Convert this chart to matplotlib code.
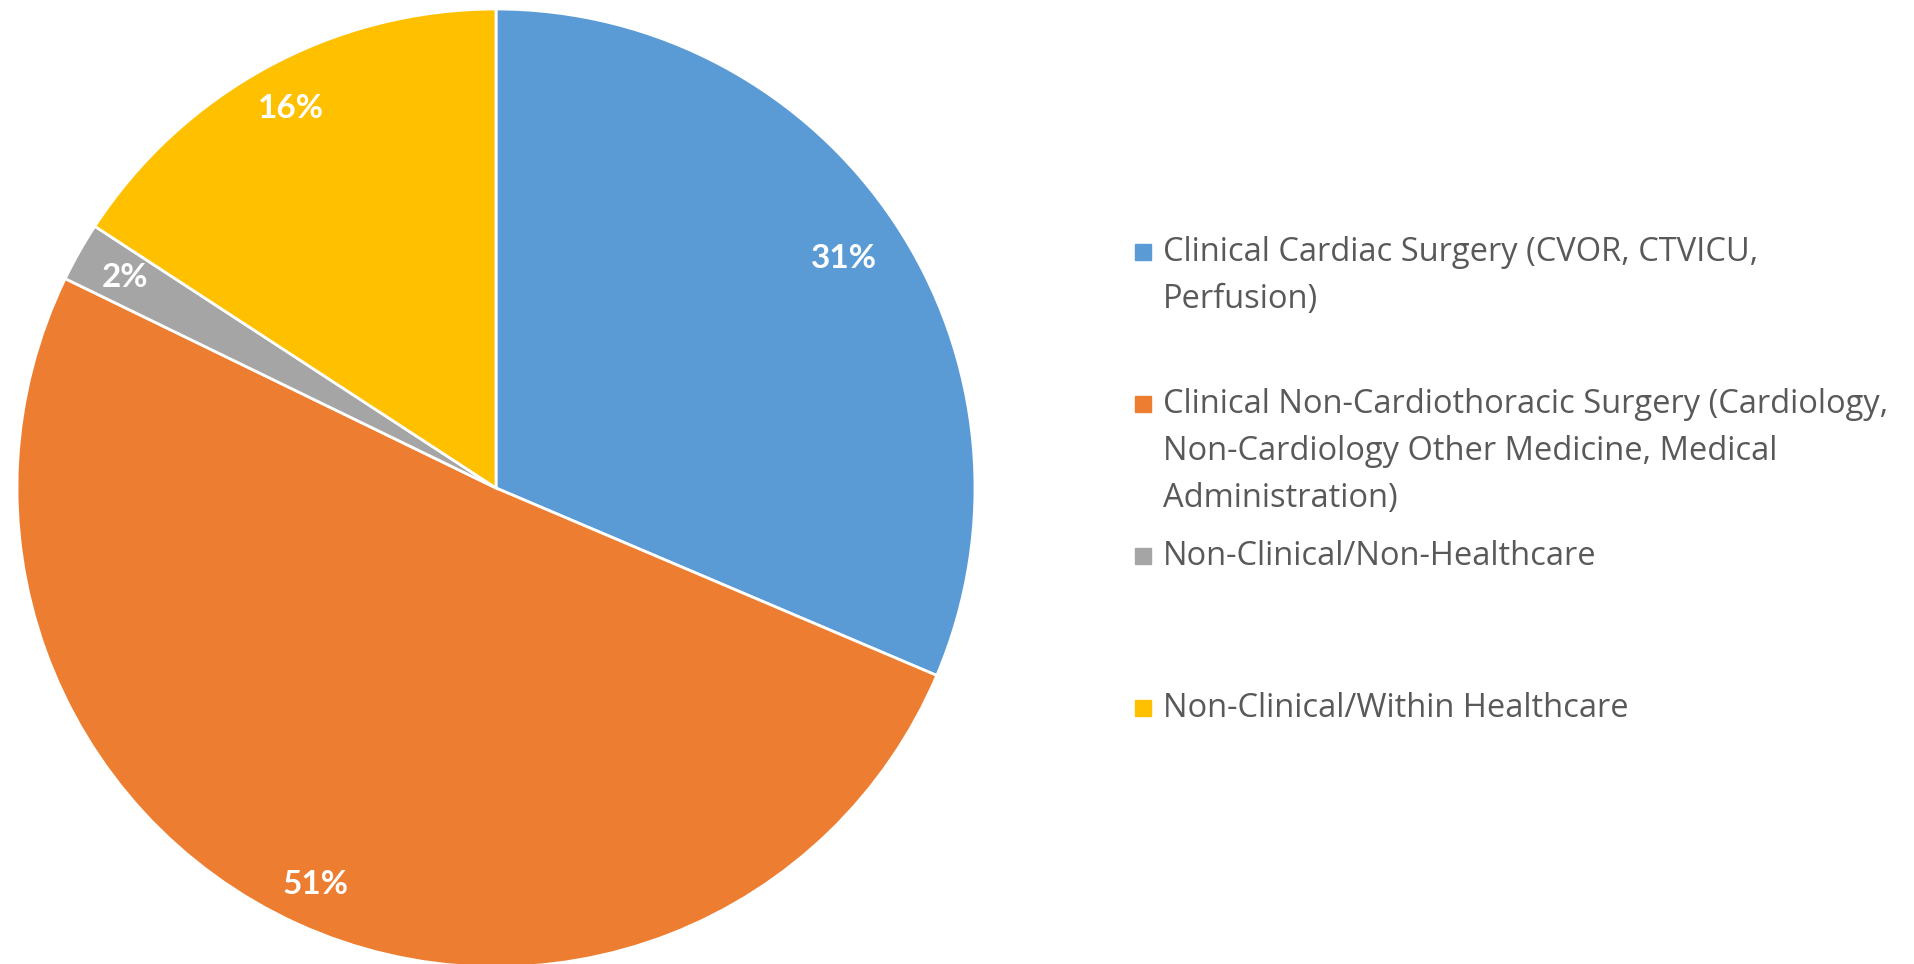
import numpy as np
import matplotlib
matplotlib.use("Agg")
import matplotlib.pyplot as plt
from matplotlib.patches import Rectangle

# shares (percent)
categories = [
    "Clinical Cardiac Surgery (CVOR, CTVICU,\nPerfusion)",
    "Clinical Non-Cardiothoracic Surgery (Cardiology,\nNon-Cardiology Other Medicine, Medical\nAdministration)",
    "Non-Clinical/Non-Healthcare",
    "Non-Clinical/Within Healthcare",
]
shares = [31.4, 50.8, 2.0, 15.8]
colors = ["#5B9BD5", "#ED7D31", "#A5A5A5", "#FFC000"]
label_dist = [0.87, 0.91, 0.89, 0.90]

W, H = 1915, 964
fig = plt.figure(figsize=(W / 100, H / 100), dpi=100)

# pie: centre (496, 488) px, radius 479 px
cx, cy, r = 496, 488, 479
ax = fig.add_axes([(cx - r) / W, (H - cy - r) / H, 2 * r / W, 2 * r / H])
wedges, texts, autotexts = ax.pie(
    shares, colors=colors, startangle=90, counterclock=False,
    autopct="%.0f%%", pctdistance=0.89,
    wedgeprops=dict(edgecolor="white", linewidth=2),
    textprops=dict(color="white", fontsize=24, fontweight="bold", family="Lato"),
)
# Excel's "best fit" puts labels at slightly different radii
for w, t, d in zip(wedges, autotexts, label_dist):
    mid = np.deg2rad((w.theta1 + w.theta2) / 2)
    t.set_position((d * np.cos(mid), d * np.sin(mid)))
ax.set_xlim(-1, 1)
ax.set_ylim(-1, 1)
ax.set_aspect("equal")

# legend, Excel style: equal slots, text top aligned
y0 = 236
step = 152
for i, (lab, col) in enumerate(zip(categories, colors)):
    ytop = y0 + i * step
    fig.text(1163 / W, 1 - ytop / H, lab, ha="left", va="top",
             fontsize=23.5, color="#595959", family="Open Sans", linespacing=1.56)
    fig.patches.append(Rectangle((1135 / W, 1 - (ytop + 24) / H), 16 / W, 16 / H,
                                 transform=fig.transFigure, color=col))

fig.savefig("out.png", dpi=100)
